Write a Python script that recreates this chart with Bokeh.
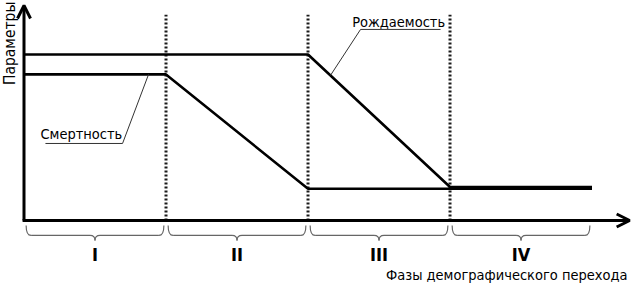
import numpy as np
from bokeh.plotting import figure
from bokeh.models import Range1d, Arrow, OpenHead, ColumnDataSource
from bokeh.core.properties import value
from bokeh.embed import file_html
from bokeh.resources import INLINE

# ---- data (schematic values) ----
phase_edges = [0, 1, 2, 3, 4]
phase_labels = ["I", "II", "III", "IV"]
birth_x = [0, 2, 3, 4]
birth_y = [10.0, 10.0, 2.02, 2.02]
death_x = [0, 1, 2, 3, 4]
death_y = [8.8, 8.8, 1.91, 1.91, 1.91]
y_title = "Параметры"
x_title = "Фазы демографического перехода"
birth_label = "Рождаемость"
death_label = "Смертность"

FONT = value("Liberation Sans Narrow, DejaVu Sans Condensed, sans-serif")
YOFF = -4

p = figure(width=631, height=284, output_backend="svg", toolbar_location=None,
           x_range=Range1d(-0.1655, 4.278), y_range=Range1d(-3.855, 13.253),
           min_border=0, outline_line_color=None)
p.axis.visible = False
p.grid.visible = False
p.background_fill_color = "white"
p.border_fill_color = "white"

# dotted phase boundaries
for e in phase_edges[1:4]:
    p.line([e, e], [0, 12.4], line_color="#1a1a1a", line_width=3, line_dash="2 2")

# curves
p.line(death_x, death_y, line_color="black", line_width=2.6)
p.line(birth_x, birth_y, line_color="black", line_width=2.6)

# axes with arrows
p.add_layout(Arrow(end=OpenHead(size=13, line_width=3, line_color="black"),
                   x_start=0, y_start=0, x_end=0, y_end=12.95,
                   line_width=3, line_color="black"))
p.add_layout(Arrow(end=OpenHead(size=13, line_width=3, line_color="black"),
                   x_start=-0.01, y_start=0, x_end=4.265, y_end=0,
                   line_width=3, line_color="black"))

# braces under each phase
top, bot, tip, r, gap = -0.30, -0.90, -1.20, 0.035, 0.015
q = dict(x0=[], y0=[], x1=[], y1=[], cx=[], cy=[])
seg = dict(xs=[], ys=[])
for a, b in zip(phase_edges[:-1], phase_edges[1:]):
    l, rr = a + gap, b - gap
    m = (a + b) / 2
    for (x0, y0, x1, y1, cx, cy) in [
        (l, top, l + r, bot, l, bot),
        (m - r, bot, m, tip, m, bot),
        (m + r, bot, m, tip, m, bot),
        (rr, top, rr - r, bot, rr, bot),
    ]:
        q["x0"].append(x0); q["y0"].append(y0); q["x1"].append(x1)
        q["y1"].append(y1); q["cx"].append(cx); q["cy"].append(cy)
    seg["xs"] += [[l + r, m - r], [m + r, rr - r]]
    seg["ys"] += [[bot, bot], [bot, bot]]
p.quadratic(x0="x0", y0="y0", x1="x1", y1="y1", cx="cx", cy="cy",
            source=ColumnDataSource(q), line_color="#666666", line_width=1.2)
p.multi_line(xs="xs", ys="ys", source=ColumnDataSource(seg),
             line_color="#666666", line_width=1.2)

# phase numerals
mids = [(a + b) / 2 for a, b in zip(phase_edges[:-1], phase_edges[1:])]
p.text(x=mids, y=[-2.29] * 4, text=phase_labels, text_font=FONT,
       text_font_size="18px", text_font_style="bold", text_align="center",
       text_baseline="alphabetic", text_color="black", y_offset=YOFF)

# annotation: death
def on_line(xs, ys, x):
    return float(np.interp(x, xs, ys))

dl_x0, dl_x1, dl_y = 0.151, 0.694, 4.64
d_pt = 0.877
p.line([dl_x0, dl_x1, d_pt], [dl_y, dl_y, on_line(death_x, death_y, d_pt)],
       line_color="#333333", line_width=1)
p.text(x=[0.116], y=[4.98], text=[death_label], text_font=FONT,
       text_font_size="14.5px", text_align="left", text_baseline="alphabetic",
       text_color="black", y_offset=YOFF)

# annotation: birth
bl_x0, bl_x1, bl_y = 2.37, 2.933, 11.51
b_pt = 2.158
p.line([bl_x1, bl_x0, b_pt], [bl_y, bl_y, on_line(birth_x, birth_y, b_pt)],
       line_color="#333333", line_width=1)
p.text(x=[2.311], y=[11.69], text=[birth_label], text_font=FONT,
       text_font_size="14.5px", text_align="left", text_baseline="alphabetic",
       text_color="black", y_offset=YOFF)

# axis titles
p.text(x=[4.25], y=[-3.55], text=[x_title], text_font=FONT,
       text_font_size="14.5px", text_align="right", text_baseline="alphabetic",
       text_color="black", y_offset=YOFF)
p.text(x=[-0.0986], y=[13.19], text=[y_title], text_font=FONT,
       text_font_size="15.5px", text_align="right", text_baseline="alphabetic",
       angle=np.pi / 2, text_color="black")

open("out.html", "w").write(file_html(p, INLINE))
